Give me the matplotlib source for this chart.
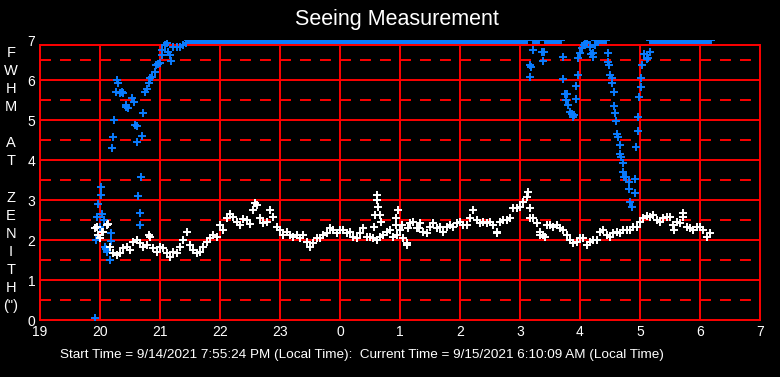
import numpy as np
import matplotlib
matplotlib.use('Agg')
import matplotlib.pyplot as plt

# sampling step of the seeing log, in hours
step = 1 / 18.0
white_t0 = 19.944

# seeing at zenith (white), one value per sample
white_v = [
    2.33, 2.04, 2.21, 2.37, 1.83, 1.67, 1.62, 1.67, 1.81, 1.83,
    1.75, 1.96, 2.00, 1.92, 1.83, 1.87, 2.08, 1.79, 1.71, 1.83,
    1.79, 1.67, 1.58, 1.71, 1.67, 1.83, 2.00, 2.21, 1.87, 1.75,
    1.67, 1.71, 1.83, 1.96, 2.06, 2.12, 2.08, 2.37, 2.25, 2.54,
    2.64, 2.58, 2.46, 2.37, 2.52, 2.50, 2.39, 2.75, 2.87, 2.54,
    2.42, 2.46, 2.75, 2.58, 2.33,
    2.25, 2.12, 2.21, 2.12, 2.08, 2.12, 2.04, 2.12, 1.96, 1.83,
    1.92, 2.04, 2.04, 2.12, 2.17, 2.29, 2.25, 2.17, 2.25, 2.25,
    2.17, 2.21, 2.08, 2.04, 2.17, 2.29, 2.08, 2.08, 2.04, 2.00,
    2.08, 2.12, 2.21, 2.25, 2.08, 2.12, 2.25, 2.04, 1.92, 2.42,
    2.46, 2.29, 2.42, 2.21, 2.17, 2.33, 2.42, 2.29, 2.33, 2.21,
    2.33, 2.37, 2.33, 2.42,
    2.46, 2.37, 2.37, 2.54, 2.75, 2.50, 2.42, 2.46, 2.42, 2.46,
    2.37, 2.21, 2.46, 2.50, 2.50, 2.54, 2.79, 2.81, 2.83, 2.96,
    3.08, 2.54, 2.54, 2.42, 2.21, 2.12, 2.37, 2.37, 2.33, 2.37,
    2.29, 2.25, 2.12, 2.00, 1.92, 1.96, 2.04, 2.04, 1.87, 1.96,
    2.00, 2.00, 2.21, 2.25, 2.12, 2.08, 2.17, 2.21, 2.17, 2.25,
    2.25, 2.25, 2.33, 2.33, 2.46, 2.54, 2.60,
    2.58, 2.62, 2.50, 2.46, 2.54, 2.58, 2.58, 2.37, 2.46, 2.42,
    2.58, 2.33, 2.29, 2.25, 2.33, 2.33, 2.25, 2.08, 2.17,
]

# stray white points off the main band
white_extra_t = [19.92, 19.97, 20.03, 20.14, 20.81, 22.58, 24.56, 24.58, 24.61,
                 24.62, 24.64, 24.67, 24.68, 24.94, 24.94, 24.97, 25.03, 25.11,
                 25.14, 25.31, 26.61, 27.14, 27.16, 27.33, 27.41, 29.56, 29.72]
white_extra_v = [2.29, 2.12, 2.21, 2.39, 2.12, 2.92, 2.33, 2.62, 3.12,
                 3.00, 2.83, 2.62, 2.46, 2.54, 2.37, 2.75, 2.37, 1.87,
                 2.29, 2.29, 2.17, 3.21, 2.79, 2.12, 2.08, 2.25, 2.67]

# measured FWHM (blue) below the 7" ceiling
blue_t = [19.92, 19.93, 19.955, 19.97, 20.0, 20.01, 20.02, 20.04, 20.06, 20.08,
          20.1, 20.11, 20.12, 20.17, 20.18, 20.18, 20.2, 20.22, 20.24, 20.26,
          20.28, 20.3, 20.34, 20.37, 20.39, 20.43, 20.44, 20.47, 20.53, 20.56,
          20.58, 20.61, 20.62, 20.64, 20.66, 20.67, 20.68, 20.7, 20.72, 20.75,
          20.78, 20.81, 20.83, 20.86, 20.92, 20.94, 20.97, 21.0, 21.03, 21.04,
          21.08, 21.11, 21.14, 21.17, 21.18, 21.22, 21.28, 21.33, 21.39, 21.44,
          27.16, 27.17, 27.18, 27.21, 27.36, 27.38, 27.4, 27.71, 27.72, 27.75,
          27.76, 27.78, 27.8, 27.83, 27.86, 27.89, 27.9, 27.93, 27.93, 27.96,
          27.97, 28.0, 28.03, 28.06, 28.08, 28.11, 28.17, 28.18, 28.21, 28.22,
          28.25, 28.46, 28.47, 28.49, 28.5, 28.53, 28.54, 28.56, 28.57, 28.59,
          28.6, 28.62, 28.64, 28.66, 28.67, 28.68, 28.71, 28.72, 28.74, 28.77,
          28.81, 28.82, 28.84, 28.86, 28.91, 28.92, 28.94, 28.96, 28.97, 28.99,
          29.01, 29.02, 29.04, 29.07, 29.11, 29.14, 29.16]
blue_v = [0.05, 2.0, 2.58, 2.9, 2.33, 3.33, 3.13, 2.65, 2.5, 1.83,
          1.77, 1.71, 1.75, 1.5, 2.18, 1.97, 4.29, 4.58, 5.0, 5.69,
          6.0, 5.92, 5.67, 5.71, 5.67, 5.33, 5.375, 5.29, 5.54, 5.46,
          4.875, 4.85, 4.44, 3.1, 2.68, 2.38, 3.58, 4.6, 5.17, 5.71,
          5.77, 5.92, 6.04, 6.07, 6.19, 6.375, 6.4, 6.42, 6.625, 6.75,
          6.875, 6.92, 6.71, 6.625, 6.48, 6.83, 6.83, 6.83, 6.875, 6.92,
          6.375, 6.07, 6.32, 6.75, 6.69, 6.48, 6.69, 6.57, 6.02, 5.64,
          5.5, 5.65, 5.375, 5.21, 5.15, 5.08, 5.12, 5.52, 5.86, 6.12,
          6.54, 6.67, 6.79, 6.875, 6.93, 6.96, 6.83, 6.65, 6.57, 6.68,
          6.875, 6.67, 6.46, 6.375, 6.125, 6.04, 5.93, 5.71, 5.35, 5.18,
          4.98, 4.64, 4.57, 4.375, 4.15, 4.08, 3.92, 3.71, 3.58, 3.57,
          3.46, 3.27, 2.96, 2.83, 3.18, 3.52, 4.32, 4.73, 5.08, 5.58,
          5.82, 6.04, 6.375, 6.65, 6.52, 6.54, 6.71]

# spans (hours) where FWHM sat at the 7" ceiling, logged once a minute
blue_cap = 7.0
cap_step = 1 / 60.0
blue_cap_spans = [(21.47, 27.13), (27.22, 27.33), (27.42, 27.69),
                  (28.25, 28.44), (29.17, 30.2)]

hour_ticks = list(range(19, 32))
hour_labels = ['19', '20', '21', '22', '23', '0', '1', '2', '3', '4', '5', '6', '7']
ylabel_chars = ['F', 'W', 'H', 'M', '', 'A', 'T', '', 'Z', 'E', 'N', 'I', 'T', 'H', '(")']
footer = ('Start Time = 9/14/2021 7:55:24 PM (Local Time):  '
          'Current Time = 9/15/2021 6:10:09 AM (Local Time)')

plt.rcParams['font.family'] = ['Liberation Sans', 'DejaVu Sans']
plt.rcParams['lines.scale_dashes'] = False

red = '#ff0000'
blue = '#0a7cff'
frame_top = 6.875
lw = 1.4
ms, mew = 5.8, 1.4

fig = plt.figure(figsize=(7.8, 3.77), dpi=100, facecolor='black')
ax = fig.add_axes([40 / 780, 57 / 377, 720 / 780, 280 / 377], facecolor='black')
ax.set_xlim(19, 31)
ax.set_ylim(0, 7)

# grid
ax.vlines(hour_ticks[1:-1], 0, frame_top, color=red, lw=lw, zorder=1)
ax.hlines(list(range(1, 7)) + [frame_top], 19, 31, color=red, lw=lw, zorder=1)
ax.hlines(np.arange(0.5, 7, 1.0), 19, 31, color=red, lw=lw,
          linestyles=[(0, (7.9, 6.5))], zorder=1)
for s in ['left', 'right', 'bottom']:
    ax.spines[s].set_color(red)
    ax.spines[s].set_linewidth(lw)
ax.spines['left'].set_bounds(0, frame_top)
ax.spines['right'].set_bounds(0, frame_top)
ax.spines['top'].set_visible(False)

ax.set_xticks(hour_ticks, labels=hour_labels)
ax.set_yticks(range(0, 8))
ax.tick_params(colors='white', length=0, labelsize=10, pad=3.5)

# data
cap_t = np.concatenate([np.arange(a, b, cap_step) for a, b in blue_cap_spans])
ax.plot(cap_t, np.full_like(cap_t, blue_cap), '+', color=blue, ms=ms, mew=mew, zorder=3)
ax.plot(blue_t, blue_v, '+', color=blue, ms=ms, mew=mew, zorder=3)

white_t = white_t0 + step * np.arange(len(white_v))
ax.plot(white_t, white_v, '+', color='white', ms=ms, mew=mew, zorder=4)
ax.plot(white_extra_t, white_extra_v, '+', color='white', ms=ms, mew=mew, zorder=4)

# texts
fig.text(397 / 780, 1 - 20 / 377, 'Seeing Measurement', ha='center', va='center',
         fontsize=15.5, color='white')
for i, ch in enumerate(ylabel_chars):
    fig.text(11 / 780, 1 - (53 + i * 18.07) / 377, ch, ha='center', va='center',
             fontsize=10.5, color='white')
fig.text(362 / 780, 1 - 355 / 377, footer, ha='center', va='center',
         fontsize=9.7, color='white')

fig.savefig('out.png', dpi=100, facecolor='black')
